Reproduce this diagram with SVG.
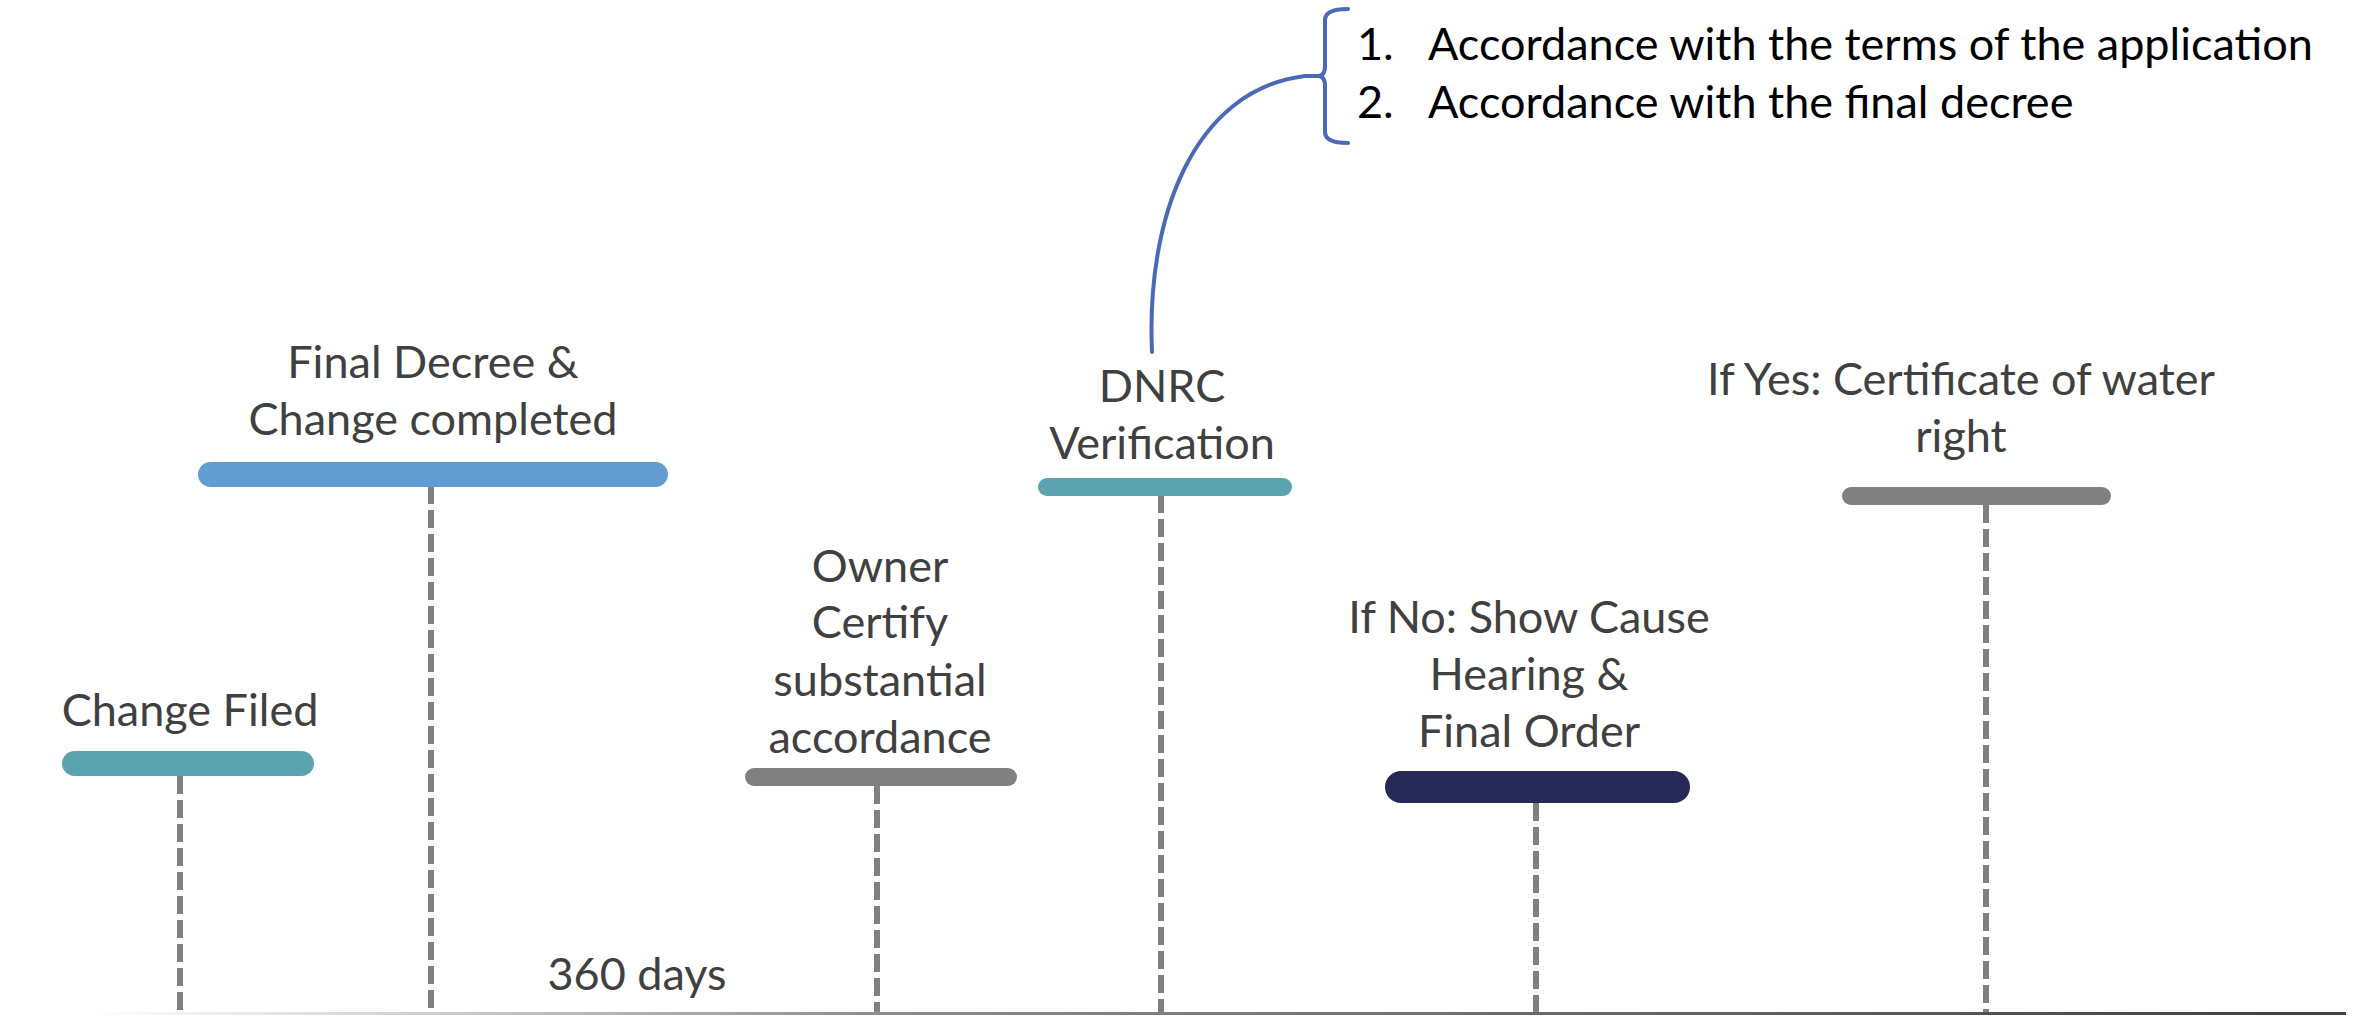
<svg xmlns="http://www.w3.org/2000/svg" width="2366" height="1016" viewBox="0 0 2366 1016">
<defs>
<linearGradient id="axisGrad" x1="0" y1="0" x2="1" y2="0">
<stop offset="0" stop-color="#404040" stop-opacity="0"/>
<stop offset="0.35" stop-color="#404040" stop-opacity="0.6"/>
<stop offset="1" stop-color="#404040" stop-opacity="1"/>
</linearGradient>
</defs>
<style>
.lbl{font-family:Lato,"Open Sans",sans-serif;font-size:45px;fill:#404040;text-anchor:middle}
.lst{font-family:Lato,"Open Sans",sans-serif;font-size:45px;fill:#000000}
.dash{stroke:#808080;stroke-width:6;stroke-dasharray:18 6;fill:none}
.teal{fill:#5BA3AF}
.blue{fill:#629DD1}
.gray{fill:#808080}
.navy{fill:#262855}
.brace{stroke:#4A6AB8;stroke-width:4;fill:none;stroke-linecap:round;stroke-linejoin:round}
</style>
<rect width="2366" height="1016" fill="#ffffff"/>
<g id="connectors">
<line class="dash" x1="180" y1="776" x2="180" y2="1012"/>
<line class="dash" x1="431" y1="486" x2="431" y2="1012"/>
<line class="dash" x1="877" y1="786" x2="877" y2="1012"/>
<line class="dash" x1="1161" y1="495" x2="1161" y2="1012"/>
<line class="dash" x1="1536" y1="803" x2="1536" y2="1012"/>
<line class="dash" x1="1986" y1="505" x2="1986" y2="1012"/>
<path class="brace" d="M1152,352 C1146,220 1192,90 1305,76 L1322,76"/>
</g>
<g id="axis">
<rect x="90" y="1012" width="2256" height="3" fill="url(#axisGrad)"/>
<text class="lbl" x="637" y="990">360 days</text>
</g>
<g id="node-change-filed">
<rect class="teal" x="62" y="751" width="252" height="25" rx="12.5"/>
<text class="lbl" x="190" y="726">Change Filed</text>
</g>
<g id="node-final-decree">
<rect class="blue" x="198" y="462" width="470" height="25" rx="12.5"/>
<text class="lbl" x="433" y="378">Final Decree &amp;</text>
<text class="lbl" x="433" y="435">Change completed</text>
</g>
<g id="node-owner-certify">
<rect class="gray" x="745" y="768" width="272" height="18" rx="9"/>
<text class="lbl" x="880" y="582">Owner</text>
<text class="lbl" x="880" y="638">Certify</text>
<text class="lbl" x="880" y="696">substantial</text>
<text class="lbl" x="880" y="753">accordance</text>
</g>
<g id="node-dnrc">
<rect class="teal" x="1038" y="478" width="254" height="18" rx="9"/>
<text class="lbl" x="1162" y="402">DNRC</text>
<text class="lbl" x="1162" y="459">Verification</text>
</g>
<g id="node-if-no">
<rect class="navy" x="1385" y="771" width="305" height="32" rx="16"/>
<text class="lbl" x="1529" y="633">If No: Show Cause</text>
<text class="lbl" x="1529" y="690">Hearing &amp;</text>
<text class="lbl" x="1529" y="747">Final Order</text>
</g>
<g id="node-if-yes">
<rect class="gray" x="1842" y="487" width="269" height="18" rx="9"/>
<text class="lbl" x="1961" y="395">If Yes: Certificate of water</text>
<text class="lbl" x="1961" y="452">right</text>
</g>
<g id="node-criteria">
<path class="brace" d="M1348,9 Q1325,9 1325,20 L1325,66 Q1325,76 1318,76 Q1325,76 1325,86 L1325,132 Q1325,143 1348,143"/>
<text class="lst" x="1357" y="60">1.</text>
<text class="lst" x="1428" y="60">Accordance with the terms of the application</text>
<text class="lst" x="1357" y="118">2.</text>
<text class="lst" x="1428" y="118">Accordance with the final decree</text>
</g>
</svg>
